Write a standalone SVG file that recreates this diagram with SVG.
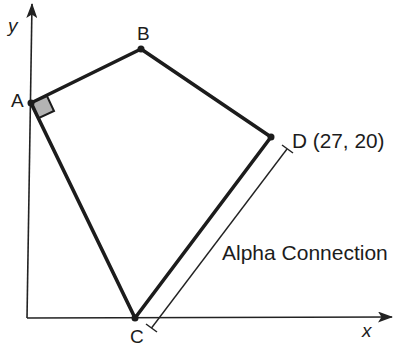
<svg xmlns="http://www.w3.org/2000/svg" width="395" height="347" viewBox="0 0 395 347">
<defs>
<style>
.axis{stroke:#222;stroke-width:1.6;fill:none}
.edge{stroke:#1c1c1c;stroke-width:3.6;fill:none;stroke-linejoin:round;stroke-linecap:round}
.dim{stroke:#222;stroke-width:1.4;fill:none}
.lbl{font-family:"Liberation Sans",Arial,sans-serif;fill:#1c1c1c}
.it{font-style:italic}
.dot{fill:#1c1c1c}
</style>
<marker id="arr" viewBox="0 0 15 11" refX="14" refY="5.5" markerWidth="15" markerHeight="11" markerUnits="userSpaceOnUse" orient="auto">
<path d="M0,0 L15,5.5 L0,11 L3.5,5.5 Z" fill="#222"/>
</marker>
</defs>
<rect width="395" height="347" fill="#ffffff"/>
<g id="axes">
<line class="axis" x1="27" y1="318" x2="32" y2="4" marker-end="url(#arr)"/>
<line class="axis" x1="27" y1="318" x2="392" y2="317" marker-end="url(#arr)"/>
<text class="lbl it" x="8" y="32" font-size="19">y</text>
<text class="lbl it" x="362" y="337" font-size="19">x</text>
</g>
<g id="connectors">
<path class="edge" d="M31,103 L141,49 L271,137 L135,318 Z"/>
<path id="right-angle" d="M32,103 L47,96 L54,111 L39,118 Z" fill="#b3b3b3" stroke="#1c1c1c" stroke-width="2"/>
</g>
<g id="node-A">
<circle class="dot" cx="31" cy="103" r="3.5"/>
<text class="lbl" x="11" y="107" font-size="19">A</text>
</g>
<g id="node-B">
<circle class="dot" cx="141" cy="49" r="3.5"/>
<text class="lbl" x="137" y="40" font-size="19">B</text>
</g>
<g id="node-D">
<circle class="dot" cx="271" cy="137" r="3.5"/>
<text class="lbl" x="292" y="148" font-size="20.8">D (27, 20)</text>
</g>
<g id="node-C">
<circle class="dot" cx="135" cy="318" r="3.5"/>
<text class="lbl" x="130" y="343" font-size="19">C</text>
</g>
<g id="dimension">
<line class="dim" x1="151.5" y1="328" x2="287" y2="149"/>
<line class="dim" x1="282" y1="145" x2="293" y2="153"/>
<line class="dim" x1="146" y1="324" x2="157" y2="332"/>
<text class="lbl" x="222" y="260" font-size="21">Alpha Connection</text>
</g>
</svg>
